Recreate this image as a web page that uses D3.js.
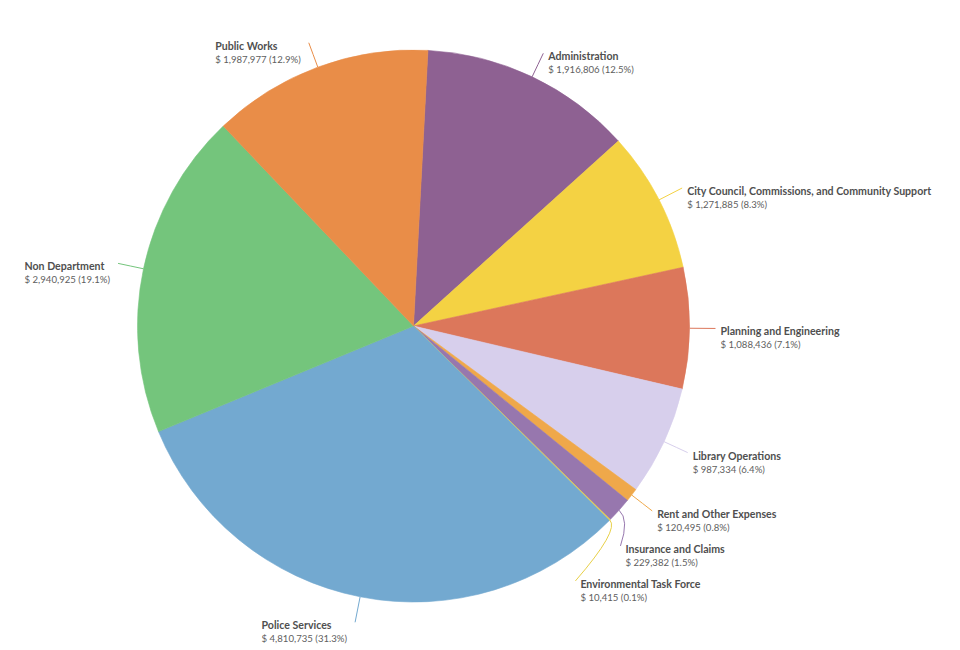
<!DOCTYPE html>
<html>
<head>
<meta charset="utf-8">
<script src="https://cdn.jsdelivr.net/npm/d3@7"></script>
<style>
  html, body { margin: 0; padding: 0; background: #ffffff; }
  svg { display: block; }
  text { font-family: Lato, "Open Sans", sans-serif; }
</style>
</head>
<body>
<svg id="chart" width="960" height="650"></svg>
<script>
// ---- data ----
const categories = [
  "Administration",
  "City Council, Commissions, and Community Support",
  "Planning and Engineering",
  "Library Operations",
  "Rent and Other Expenses",
  "Insurance and Claims",
  "Environmental Task Force",
  "Police Services",
  "Non Department",
  "Public Works"
];
const values = [1916806, 1271885, 1088436, 987334, 120495, 229382, 10415, 4810735, 2940925, 1987977];
const colors = ["#8e6192", "#f4d243", "#dc775b", "#d7cfec", "#efa84a", "#9777ae", "#e8d047", "#73a9d0", "#74c57c", "#e98d48"];

// ---- layout ----
const cx = 413.5, cy = 326, R = 276, labelR = 302, minGap = 35;
const startOffset = 3.0 * Math.PI / 180;

const svg = d3.select("#chart");
const total = d3.sum(values);
const fmt = d3.format(",");

const pie = d3.pie().sort(null).value(d => d.value)
  .startAngle(startOffset).endAngle(startOffset + 2 * Math.PI);
const arcs = pie(categories.map((c, i) => ({ name: c, value: values[i], color: colors[i] })));
const arc = d3.arc().innerRadius(0).outerRadius(R);

const g = svg.append("g").attr("transform", `translate(${cx},${cy})`);
g.selectAll("path.slice").data(arcs).enter().append("path")
  .attr("class", "slice")
  .attr("d", arc)
  .attr("fill", d => d.data.color)
  .attr("stroke", d => d.data.color)
  .attr("stroke-width", 0.6);

// label anchor computation with simple collision avoidance
arcs.forEach(d => {
  d.mid = (d.startAngle + d.endAngle) / 2;
  d.side = Math.sin(d.mid) >= 0 ? 1 : -1;
  d.ly = -labelR * Math.cos(d.mid);
});
[1, -1].forEach(side => {
  const list = arcs.filter(d => d.side === side).sort((a, b) => a.ly - b.ly);
  for (let i = 1; i < list.length; i++) {
    if (list[i].ly < list[i - 1].ly + minGap) list[i].ly = list[i - 1].ly + minGap;
  }
});
arcs.forEach(d => {
  const dy = Math.max(-labelR, Math.min(labelR, d.ly));
  d.lx = d.side * Math.sqrt(labelR * labelR - dy * dy);
});

// connectors
g.selectAll("path.conn").data(arcs).enter().append("path")
  .attr("class", "conn")
  .attr("fill", "none")
  .attr("stroke", d => d.data.color)
  .attr("stroke-width", 1)
  .attr("d", d => {
    const x0 = R * Math.sin(d.mid), y0 = -R * Math.cos(d.mid);
    const xc = (R + 14) * Math.sin(d.mid), yc = -(R + 14) * Math.cos(d.mid);
    return `M${x0},${y0}Q${xc},${yc} ${d.lx},${d.ly}`;
  });

// labels
const lab = g.selectAll("g.label").data(arcs).enter().append("g").attr("class", "label");
lab.append("text")
  .attr("class", "nm")
  .attr("font-size", 10.6)
  .attr("font-weight", 700)
  .attr("fill", "#4f4f4f")
  .attr("y", d => d.ly + 7)
  .text(d => d.data.name);
lab.append("text")
  .attr("class", "vl")
  .attr("font-size", 9.6)
  .attr("fill", "#606060")
  .attr("y", d => d.ly + 20)
  .text(d => `$ ${fmt(d.data.value)} (${(d.data.value / total * 100).toFixed(1)}%)`);
lab.each(function (d) {
  const sel = d3.select(this);
  const w = d3.max(sel.selectAll("text").nodes(), n => n.getComputedTextLength());
  const x = d.side > 0 ? d.lx + 5 : d.lx - 8 - w;
  sel.selectAll("text").attr("x", x);
});
</script>
</body>
</html>
